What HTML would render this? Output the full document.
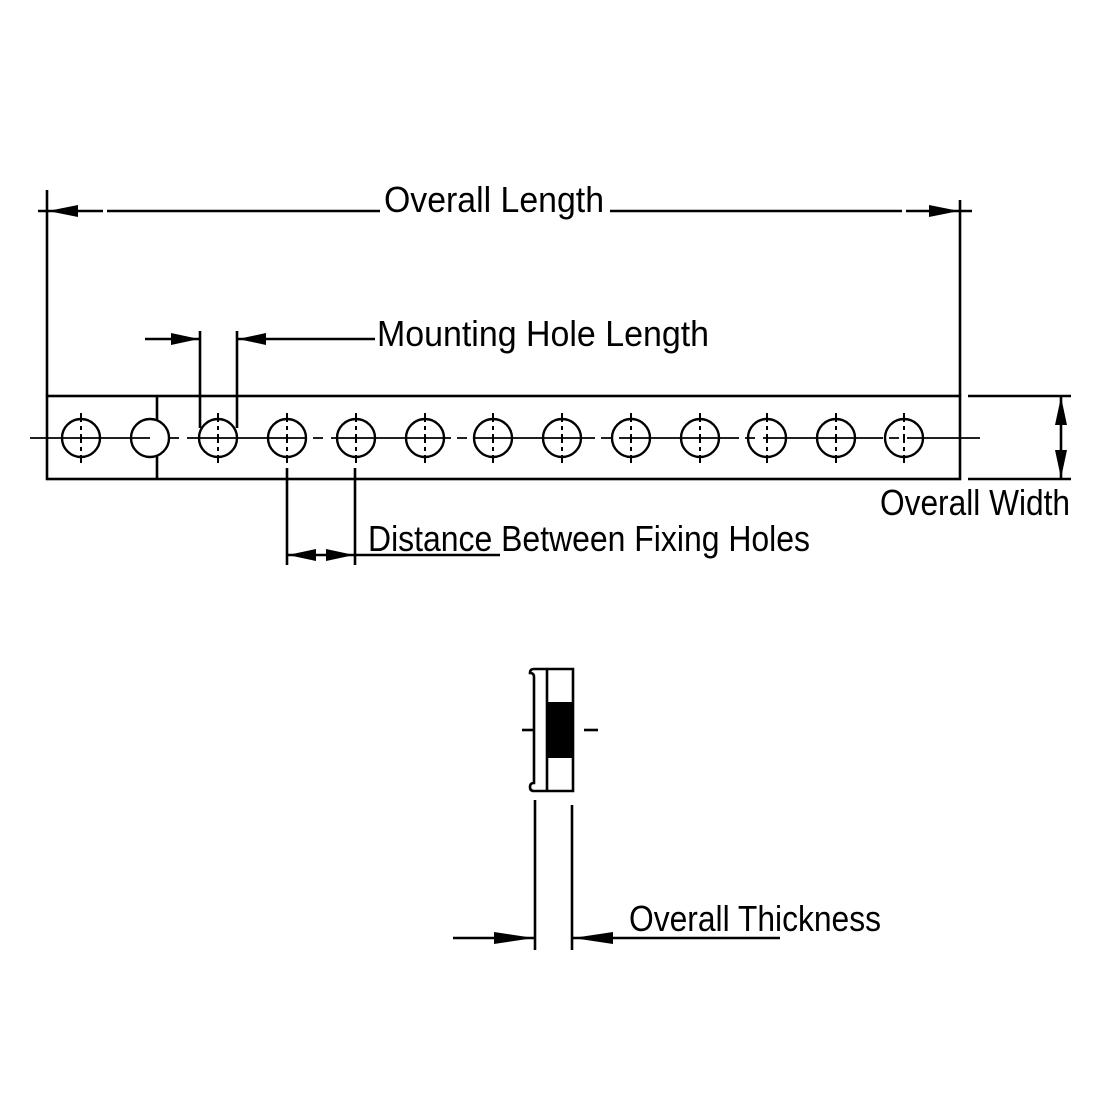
<!DOCTYPE html>
<html><head><meta charset="utf-8"><style>html,body{margin:0;padding:0;background:#fff}svg{display:block}</style></head>
<body>
<svg width="1100" height="1100" viewBox="0 0 1100 1100" xmlns="http://www.w3.org/2000/svg" font-family="Liberation Sans, sans-serif">
<g stroke="#000" stroke-width="2.6" fill="none">
<line x1="47" y1="190" x2="47" y2="396"/>
<line x1="960" y1="200" x2="960" y2="396"/>
<line x1="38" y1="211" x2="103" y2="211"/>
<line x1="107" y1="211" x2="380" y2="211"/>
<line x1="610" y1="211" x2="902" y2="211"/>
<line x1="906" y1="211" x2="972" y2="211"/>
<rect x="47" y="396" width="913" height="83"/>
<line x1="157" y1="396" x2="157" y2="421"/>
<line x1="157" y1="456" x2="157" y2="479"/>
<line x1="200" y1="331" x2="200" y2="428"/>
<line x1="237" y1="331" x2="237" y2="428"/>
<line x1="145" y1="339" x2="200" y2="339"/>
<line x1="237" y1="339" x2="375" y2="339"/>
<line x1="968" y1="396" x2="1071" y2="396"/>
<line x1="968" y1="479" x2="1071" y2="479"/>
<line x1="1061" y1="396" x2="1061" y2="479"/>
<line x1="287" y1="468" x2="287" y2="565"/>
<line x1="355" y1="468" x2="355" y2="565"/>
<line x1="287" y1="555" x2="500" y2="555"/>
<path d="M534 669 L573 669 L573 791 L534 791 M534 669 Q530 669 530 673 Q534 673 534 677 L534 783 Q530 783 530 787 Q530 791 534 791"/>
<line x1="547" y1="669" x2="547" y2="791"/>
<line x1="535" y1="800" x2="535" y2="950"/>
<line x1="572" y1="805" x2="572" y2="950"/>
<line x1="453" y1="938" x2="535" y2="938"/>
<line x1="572" y1="938" x2="780" y2="938"/>
<line x1="522" y1="730" x2="534" y2="730"/>
<line x1="584" y1="730" x2="598" y2="730"/>
</g>
<rect x="548" y="702" width="24" height="56" fill="#000"/>
<line x1="30" y1="438" x2="131" y2="438" stroke="#000" stroke-width="1.8"/>
<line x1="131" y1="438" x2="150" y2="438" stroke="#000" stroke-width="1.8"/>
<line x1="169" y1="438" x2="980" y2="438" stroke="#000" stroke-width="1.8" stroke-dasharray="10 8 120 6"/>
<g stroke="#000" stroke-width="2.4" fill="none">
<circle cx="81" cy="438" r="19"/>
<circle cx="150" cy="438" r="19"/>
<circle cx="218" cy="438" r="19"/>
<circle cx="287" cy="438" r="19"/>
<circle cx="356" cy="438" r="19"/>
<circle cx="425" cy="438" r="19"/>
<circle cx="493" cy="438" r="19"/>
<circle cx="562" cy="438" r="19"/>
<circle cx="631" cy="438" r="19"/>
<circle cx="700" cy="438" r="19"/>
<circle cx="767" cy="438" r="19"/>
<circle cx="836" cy="438" r="19"/>
<circle cx="904" cy="438" r="19"/>
</g>
<g stroke="#000" stroke-width="2" stroke-dasharray="9 4 4 4">
<line x1="81" y1="413" x2="81" y2="463"/>
<line x1="218" y1="413" x2="218" y2="463"/>
<line x1="287" y1="413" x2="287" y2="463"/>
<line x1="356" y1="413" x2="356" y2="463"/>
<line x1="425" y1="413" x2="425" y2="463"/>
<line x1="493" y1="413" x2="493" y2="463"/>
<line x1="562" y1="413" x2="562" y2="463"/>
<line x1="631" y1="413" x2="631" y2="463"/>
<line x1="700" y1="413" x2="700" y2="463"/>
<line x1="767" y1="413" x2="767" y2="463"/>
<line x1="836" y1="413" x2="836" y2="463"/>
<line x1="904" y1="413" x2="904" y2="463"/>
</g>
<g fill="#000">
<polygon points="48,211 78,205 78,217"/>
<polygon points="959,211 929,205 929,217"/>
<polygon points="199,339 171,333 171,345"/>
<polygon points="238,339 266,333 266,345"/>
<polygon points="1061,397 1055,425 1067,425"/>
<polygon points="1061,478 1055,450 1067,450"/>
<polygon points="288,555 316,549 316,561"/>
<polygon points="354,555 326,549 326,561"/>
<polygon points="534,938 494,932 494,944"/>
<polygon points="573,938 613,932 613,944"/>
</g>
<g font-size="36" fill="#000">
<text x="384" y="212" textLength="220" lengthAdjust="spacingAndGlyphs">Overall Length</text>
<text x="377" y="346" textLength="332" lengthAdjust="spacingAndGlyphs">Mounting Hole Length</text>
<text x="880" y="515" textLength="190" lengthAdjust="spacingAndGlyphs">Overall Width</text>
<text x="368" y="551" textLength="442" lengthAdjust="spacingAndGlyphs">Distance Between Fixing Holes</text>
<text x="629" y="931" textLength="252" lengthAdjust="spacingAndGlyphs">Overall Thickness</text>
</g>
</svg>
</body></html>
